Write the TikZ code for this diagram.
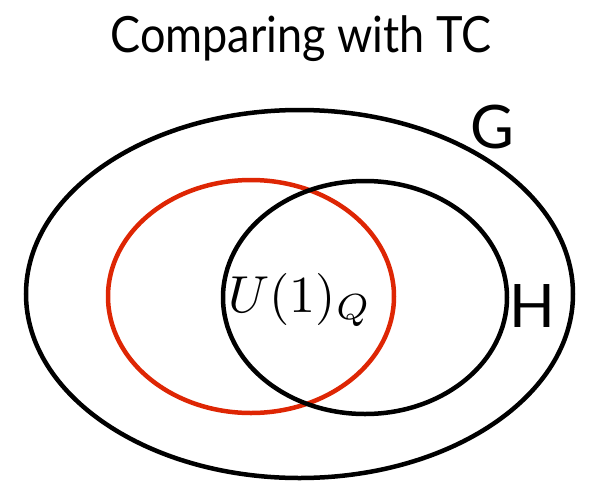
\documentclass[tikz,border=0pt]{standalone}
\usepackage{fontspec}
\newfontfamily\labelfont{Lato}
\usetikzlibrary{shapes.geometric}
\definecolor{setred}{RGB}{222,38,4}
\tikzset{
  setring/.style={draw, ellipse, line width=4.5pt, inner sep=0pt},
  biglabel/.style={font=\labelfont\fontsize{60}{66}\selectfont, inner sep=0pt, anchor=base},
}
\begin{document}
\begin{tikzpicture}[x=1pt,y=-1pt]
\useasboundingbox (0,0) rectangle (590,483);
\node[font=\labelfont\fontsize{50}{58}\selectfont, inner sep=0pt, anchor=base, xscale=0.9] (title) at (301,52) {Comparing with TC};
\node[setring, minimum width=547pt, minimum height=368pt] (G) at (299.5,294) {};
\node[setring, draw=setred, minimum width=286pt, minimum height=233pt] (Q) at (251,296.5) {};
\node[setring, minimum width=284pt, minimum height=233pt] (H) at (365,297.5) {};
\node[biglabel] (Glabel) at (492,148) {G};
\node[biglabel] (Hlabel) at (532,327) {H};
\node[inner sep=0pt, anchor=base, scale=5.2] (U) at (300,312) {$U(1)_Q$};
\end{tikzpicture}
\end{document}
